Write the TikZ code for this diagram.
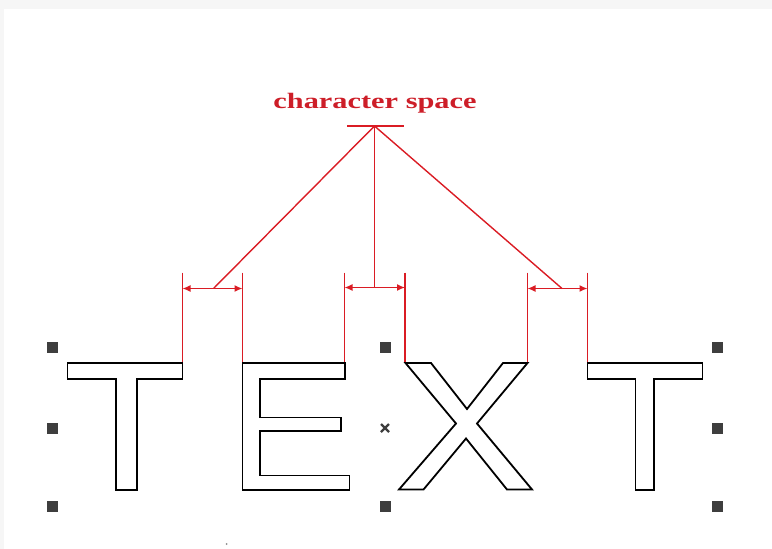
\documentclass[tikz,border=0pt]{standalone}
\usepackage{fontspec}
\setmainfont{Liberation Serif}
\usetikzlibrary{arrows.meta}
\definecolor{dimred}{RGB}{218,28,36}
\definecolor{txtred}{RGB}{205,30,40}
\definecolor{handle}{RGB}{62,62,62}
\definecolor{frame}{RGB}{246,246,246}
\tikzset{
  glyph/.style={draw=black,line width=1.8pt,fill=white,line join=miter},
  dimline/.style={draw=dimred,line width=1.4pt},
  dimarrow/.style={dimline,{Latex[length=8pt,width=7pt]}-{Latex[length=8pt,width=7pt]}},
  handlebox/.style={fill=handle,draw=none,minimum size=11pt,inner sep=0pt},
}
\begin{document}
\begin{tikzpicture}[x=1pt,y=-1pt]
\useasboundingbox (0,0) rectangle (772,549);
\fill[frame] (0,0) rectangle (772,9);
\fill[frame] (0,0) rectangle (4,549);
% letters
\draw[glyph] (67.5,363) -- (182.5,363) -- (182.5,379) -- (137,379) -- (137,490) -- (116,490) -- (116,379) -- (67.5,379) -- cycle;
\draw[glyph] (242.5,363) -- (345,363) -- (345,379) -- (260,379) -- (260,417.5) -- (341,417.5) -- (341,431) -- (260,431) -- (260,475.5) -- (349.5,475.5) -- (349.5,490) -- (242.5,490) -- cycle;
\draw[glyph] (405.5,363) -- (431,363) -- (467,409) -- (503,363) -- (527.5,363) -- (477,423.5) -- (532,489.5) -- (507,489.5) -- (466,438.5) -- (423.5,489.5) -- (399,489.5) -- (456,423.5) -- cycle;
\draw[glyph] (587.5,363) -- (702.5,363) -- (702.5,379) -- (654,379) -- (654,490) -- (635.5,490) -- (635.5,379) -- (587.5,379) -- cycle;
% extension lines
\foreach \n/\x in {a/182.5,b/242.5,c/344.5,d/405,e/527.5,f/587.5}{
  \coordinate (\n top) at (\x,272.5);
  \coordinate (\n bot) at (\x,362);
  \draw[dimline] (\n top) -- (\n bot);
}
% dimension arrows
\coordinate (a1) at (182.5,288.5); \coordinate (a2) at (242.5,288.5);
\coordinate (c1) at (344.5,287.5); \coordinate (c2) at (405,287.5);
\coordinate (e1) at (527.5,288.5); \coordinate (e2) at (587.5,288.5);
\draw[dimarrow] (a1) -- (a2);
\draw[dimarrow] (c1) -- (c2);
\draw[dimarrow] (e1) -- (e2);
% leader lines
\coordinate (apex) at (374.5,126);
\coordinate (barL) at (347,126); \coordinate (barR) at (403.5,126);
\coordinate (la) at (213.5,288.5);
\coordinate (lc) at (374.5,287.5);
\coordinate (le) at (562,288.5);
\draw[dimline] (barL) -- (barR);
\draw[dimline] (apex) -- (la);
\draw[dimline] (apex) -- (lc);
\draw[dimline] (apex) -- (le);
\node[text=txtred,font=\fontsize{22}{22}\selectfont\bfseries,anchor=base,inner sep=0pt] (label) at (375,108.5) {\scalebox{1.38}[1]{character space}};
% handles
\foreach \n/\x in {l/52.5,m/385,r/717.5}{
  \node[handlebox] (\n1) at (\x,347) {};
  \node[handlebox] (\n3) at (\x,506) {};
}
\node[handlebox] (l2) at (52.5,428) {};
\node[handlebox] (r2) at (717.5,428) {};
\coordinate (mx) at (385,428);
\draw[handle,line width=2.2pt] ([shift={(-4,-4)}]mx) -- ([shift={(4,4)}]mx) ([shift={(-4,4)}]mx) -- ([shift={(4,-4)}]mx);
\fill[handle!60] (226.7,544) circle (1pt);
\end{tikzpicture}
\end{document}
